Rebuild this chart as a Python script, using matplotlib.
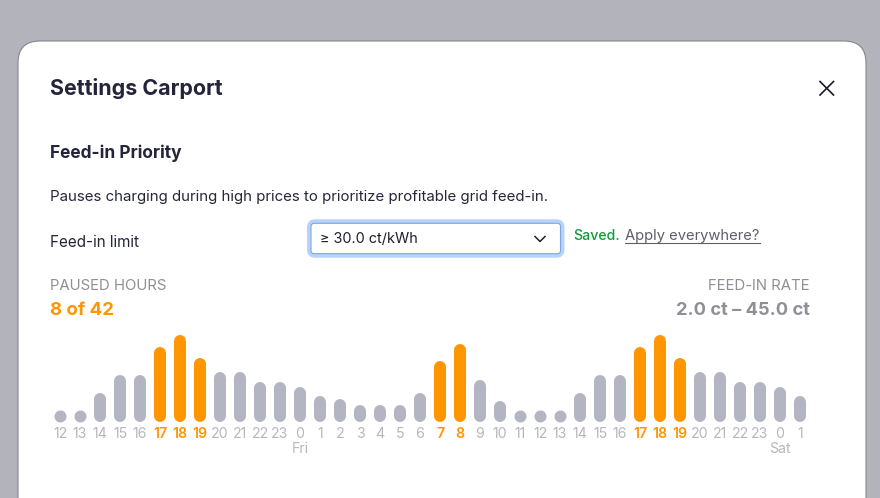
#!/usr/bin/env python3
import matplotlib
matplotlib.use('Agg')
import matplotlib.pyplot as plt
from matplotlib.patches import FancyBboxPatch

plt.rcParams['font.family'] = ['Inter', 'DejaVu Sans']

# hours shown along the axis
hours = [12, 13, 14, 15, 16, 17, 18, 19, 20, 21, 22, 23, 0, 1, 2, 3, 4, 5, 6, 7, 8, 9,
         10, 11, 12, 13, 14, 15, 16, 17, 18, 19, 20, 21, 22, 23, 0, 1]
# bar heights
values = [12, 12, 29, 47, 47, 75, 87, 64, 50, 50, 40, 40, 35, 26, 23, 17, 17, 17, 29,
          61, 78, 42, 21, 12, 12, 12, 29, 47, 47, 75, 87, 64, 50, 50, 40, 40, 35, 26]
paused = [5, 6, 7, 19, 20, 29, 30, 31]
day_labels = {12: 'Fri', 36: 'Sat'}

ORANGE = '#ff9500'
BAR_GREY = '#b4b5c2'
TICK_GREY = '#b6b6bf'
DARK = '#24243a'
GREY_TXT = '#8f8f98'

W, H = 880, 498
fig = plt.figure(figsize=(W / 100, H / 100), dpi=100, facecolor='#b3b4bb')

# page layer in pixel coords
ui = fig.add_axes([0, 0, 1, 1])
ui.set_xlim(0, W)
ui.set_ylim(H, 0)
ui.axis('off')

ui.add_patch(FancyBboxPatch((18, 41), 848, 520, boxstyle='round,pad=0,rounding_size=22',
                            fc='white', ec='#85868e', lw=0.8))


def label(x, y, s, size, color=DARK, weight='normal', ha='left'):
    return ui.text(x, y, s, fontsize=size, color=color, fontweight=weight, ha=ha, va='center')


label(50, 88.5, 'Settings Carport', 15.4, weight='bold')
label(50, 153.5, 'Feed-in Priority', 12.5, weight='bold')
label(50, 197, 'Pauses charging during high prices to prioritize profitable grid feed-in.', 10.8, color='#26263a')
label(50, 242, 'Feed-in limit', 11, color='#26263a')

# close icon
ui.plot([820, 833.5], [81.5, 95], color='#1b1b28', lw=1.2)
ui.plot([820, 833.5], [95, 81.5], color='#1b1b28', lw=1.2)

# select box
ui.add_patch(FancyBboxPatch((311, 223.3), 249.5, 30.4, boxstyle='round,pad=0,rounding_size=4',
                            fc='white', ec='#b8d3fb', lw=5.8))
ui.add_patch(FancyBboxPatch((311, 223.3), 249.5, 30.4, boxstyle='round,pad=0,rounding_size=3',
                            fc='white', ec='#7ea6e0', lw=0.8))
label(320, 239, '≥ 30.0 ct/kWh', 10.4, color='#1f1f2c')
ui.plot([535, 540, 545], [236.5, 241.5, 236.5], color='#1f1f2c', lw=1.1)

label(573, 236, 'Saved.', 10.2, color='#0f9d3a', weight='medium')
label(625, 236, 'Apply everywhere?', 10.6, color='#5f5f68')
ui.plot([625, 759.5], [242.5, 242.5], color='#5f5f68', lw=0.8)

label(50, 286, 'PAUSED HOURS', 10.75, color=GREY_TXT)
label(50, 310, '8 of 42', 13.4, color=ORANGE, weight='bold')
label(810, 286, 'FEED-IN RATE', 10.75, color=GREY_TXT, ha='right')
label(810, 310, '2.0 ct – 45.0 ct', 13.2, color=GREY_TXT, weight='bold', ha='right')

# bar chart, 1 y unit = 1 px
ax = fig.add_axes([50 / W, (H - 422) / H, 760 / W, 90 / H])
ax.patch.set_alpha(0)
ax.set_xlim(-0.5, len(hours) - 0.5)
ax.set_ylim(0, 90)
for s in ax.spines.values():
    s.set_visible(False)
ax.set_yticks([])

BAR_PX = 12
cap = BAR_PX / 2
colors = [ORANGE if i in paused else BAR_GREY for i in range(len(hours))]
for i, v in enumerate(values):
    if v <= BAR_PX:
        # too short for a line with round caps, draw a dot
        ax.plot([i], [v / 2], 'o', ms=BAR_PX * 0.72, mew=0, color=colors[i])
    else:
        ax.vlines(i, cap, v - cap, color=colors[i], lw=BAR_PX * 0.72, capstyle='round')

ax.set_xticks(range(len(hours)))
ax.set_xticklabels([str(h) for h in hours], fontsize=10.2)
ax.tick_params(axis='x', length=0, pad=3.5)
for i, t in enumerate(ax.get_xticklabels()):
    if i in paused:
        t.set_color(ORANGE)
        t.set_fontweight('semibold')
    else:
        t.set_color(TICK_GREY)

for i, name in day_labels.items():
    ax.annotate(name, (i, 0), xytext=(0, -19.5), textcoords='offset points', ha='center',
                va='center', fontsize=10.2, color=TICK_GREY, annotation_clip=False)

fig.savefig('out.png', dpi=100, facecolor=fig.get_facecolor())
